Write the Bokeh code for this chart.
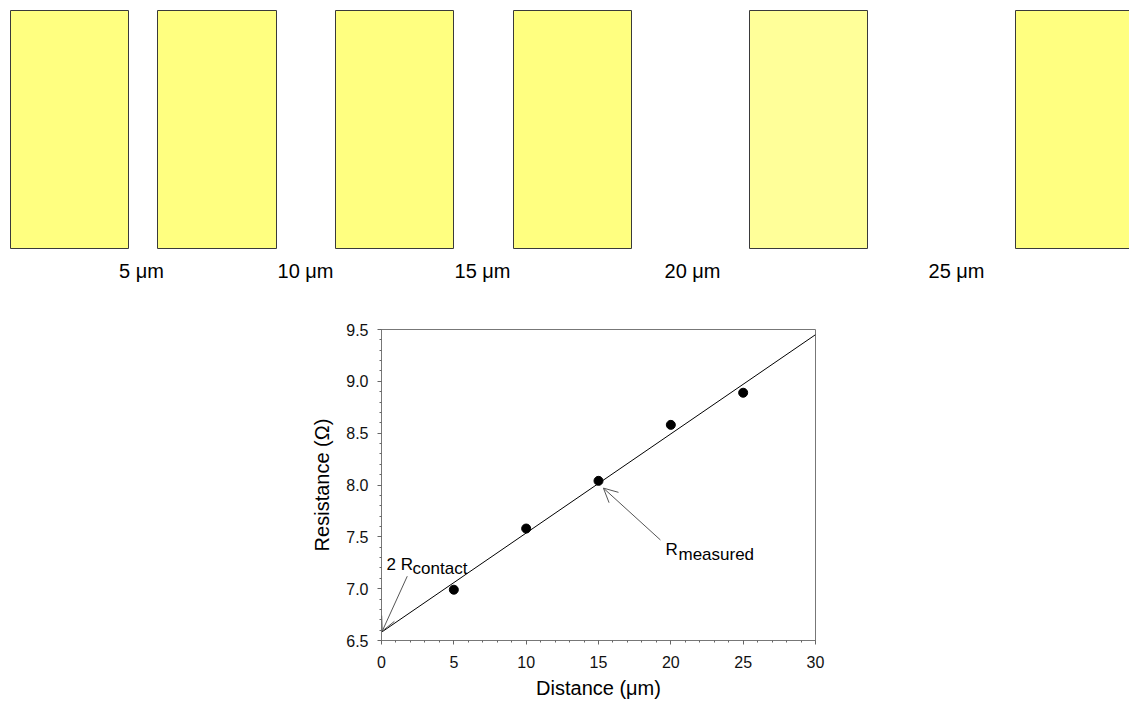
from bokeh.plotting import figure
from bokeh.models import (Range1d, SingleIntervalTicker, NumeralTickFormatter,
                          Label, Arrow, OpenHead)
from bokeh.core.properties import value
from bokeh.embed import file_html
from bokeh.resources import INLINE

# ---- schematic of the TLM pads (screen-unit coordinates of the sketch) ----
pad_left = [10, 157, 335, 513, 749, 1015]
pad_right = [128, 276, 453, 631, 867, 1133]
pad_fill = ["#FFFF80", "#FFFF80", "#FFFF80", "#FFFF80", "#FFFF99", "#FFFF80"]
gap_labels = ["5 μm", "10 μm", "15 μm", "20 μm", "25 μm"]
gap_label_x = [141, 305, 482, 692, 956]

# ---- measured TLM data ----
distance = [5, 10, 15, 20, 25]
resistance = [6.99, 7.58, 8.04, 8.58, 8.89]
fit_x = [0, 30]
fit_y = [6.58, 9.45]

FONT = "Liberation Sans"

# ---------------- top: pad sketch ----------------
p1 = figure(width=1129, height=290, x_range=Range1d(0, 1129), y_range=Range1d(290, 0),
            output_backend="svg", toolbar_location=None,
            min_border=0, min_border_left=0, min_border_right=0,
            min_border_top=0, min_border_bottom=0)
p1.axis.visible = False
p1.grid.visible = False
p1.outline_line_color = None
p1.quad(left=pad_left, right=pad_right, top=[10] * len(pad_left), bottom=[248] * len(pad_left),
        fill_color=pad_fill, line_color="#3a3a3a", line_width=1)
p1.text(x=gap_label_x, y=[270] * len(gap_labels), text=gap_labels,
        text_font=value(FONT), text_font_size="20px", text_align="center",
        text_baseline="alphabetic", text_color="#000000")

# ---------------- bottom: resistance vs distance ----------------
p2 = figure(width=1129, height=411, x_range=Range1d(0, 30), y_range=Range1d(6.5, 9.5),
            output_backend="svg", toolbar_location=None,
            min_border_left=381, min_border_right=314, min_border_top=39, min_border_bottom=60)
p2.grid.visible = False
p2.outline_line_color = "#777777"
p2.outline_line_width = 1

p2.xaxis.ticker = SingleIntervalTicker(interval=5, num_minor_ticks=5)
p2.yaxis.ticker = SingleIntervalTicker(interval=0.5, num_minor_ticks=5)
p2.yaxis.formatter = NumeralTickFormatter(format="0.0")
for ax in (p2.xaxis[0], p2.yaxis[0]):
    ax.axis_line_color = "#777777"
    ax.major_tick_line_color = "#666666"
    ax.minor_tick_line_color = "#666666"
    ax.major_tick_out = 4
    ax.major_tick_in = 0
    ax.minor_tick_out = 2
    ax.minor_tick_in = 0
    ax.major_label_text_font = FONT
    ax.major_label_text_font_size = "16px"
    ax.major_label_text_color = "#111111"
    ax.axis_label_text_font = FONT
    ax.axis_label_text_font_size = "20px"
    ax.axis_label_text_font_style = "normal"
    ax.axis_label_text_color = "#000000"
p2.xaxis.major_label_standoff = 11
p2.yaxis.major_label_standoff = 9
p2.xaxis.axis_label = "Distance (μm)"
p2.yaxis.axis_label = "Resistance (Ω)"
p2.xaxis.axis_label_standoff = 6
p2.yaxis.axis_label_standoff = 10

p2.line(fit_x, fit_y, line_color="#000000", line_width=1)
p2.scatter(distance, resistance, size=9, fill_color="#000000", line_color="#000000")

# annotations
arrow_col = "#555555"
p2.add_layout(Arrow(end=OpenHead(size=14, line_color=arrow_col, line_width=1),
                    x_start=1.78, y_start=7.12, x_end=0.05, y_end=6.59,
                    line_color=arrow_col, line_width=1))
p2.add_layout(Arrow(end=OpenHead(size=14, line_color=arrow_col, line_width=1),
                    x_start=19.28, y_start=7.47, x_end=15.34, y_end=7.97,
                    line_color=arrow_col, line_width=1))

def lab(x, y, t, size, dx=0, dy=0):
    p2.add_layout(Label(x=x, y=y, text=t, text_font=FONT, text_font_size=size,
                        x_offset=dx, y_offset=dy,
                        text_baseline="alphabetic", text_align="left", text_color="#000000"))

lab(0.35, 7.23, "2 R", "17px")
lab(0.35, 7.23, "contact", "17px", dx=26, dy=-4)
lab(19.63, 7.374, "R", "17px")
lab(19.63, 7.374, "measured", "17px", dx=13, dy=-5)

open("out.html", "w").write(file_html([p1, p2], INLINE))
